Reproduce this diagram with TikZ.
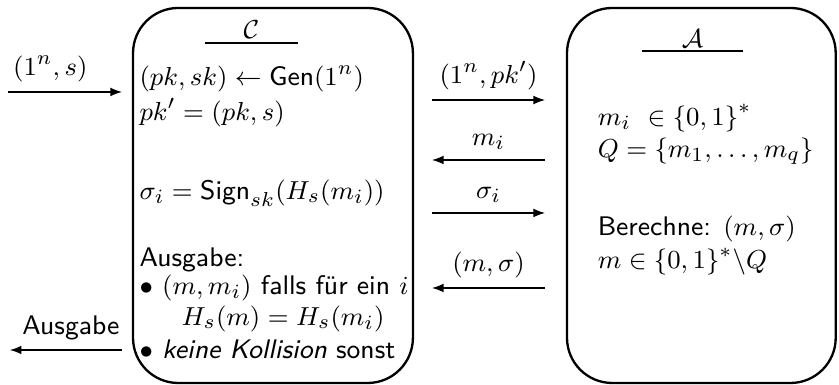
\documentclass[tikz,border=0pt]{standalone}
\usepackage{amsmath,amssymb}
\usepackage{tikz}
\usetikzlibrary{arrows.meta,positioning}

\begin{document}
\begin{tikzpicture}[font=\fontsize{9.3}{11}\selectfont,
  txt/.style={anchor=west,inner sep=0pt,font=\fontsize{9.3}{11}\sffamily},
  msg/.style={-{Latex[length=4pt,width=3pt]}},
  party/.style={thick,rounded corners=0.55cm}]
 \useasboundingbox (0,0) rectangle (10.2,-4.68);
 \draw[party] (1.617,-0.097) rectangle (5.02,-4.656);
 \draw[party] (6.893,-0.097) rectangle (10.16,-4.656);
 \node[anchor=base] (chal) at (3.055,-0.47) {$\mathcal{C}$};
 \draw[thick] (2.49,-0.523) -- (3.62,-0.523);
 \node[anchor=base] (adv) at (8.42,-0.58) {$\mathcal{A}$};
 \draw[thick] (7.805,-0.62) -- (9.033,-0.62);
 \node[txt] (c1) at (1.69,-0.96) {$(pk,sk)\leftarrow\textsf{Gen}(1^n)$};
 \node[txt] (c2) at (1.69,-1.374) {$pk'=(pk,s)$};
 \node[txt] (c3) at (1.69,-2.346) {$\sigma_i=\textsf{Sign}_{sk}(H_s(m_i))$};
 \node[txt] (c4) at (1.69,-3.16) {Ausgabe:};
 \node[txt] (c5) at (1.69,-3.50) {$\bullet$ $(m,m_i)$ falls für ein $i$};
 \node[txt] (c6) at (2.2,-3.878) {$H_s(m)=H_s(m_i)$};
 \node[txt] (c7) at (1.69,-4.243) {$\bullet$ \textit{keine Kollision} sonst};
 \node[txt] (a1) at (7.26,-1.435) {$m_i\ \in\{0,1\}^*$};
 \node[txt] (a2) at (7.26,-1.836) {$Q=\{m_1,\dots,m_q\}$};
 \node[txt] (a3) at (7.26,-2.78) {Berechne: $(m,\sigma)$};
 \node[txt] (a4) at (7.26,-3.18) {$m\in\{0,1\}^*\backslash Q$};
 \coordinate (inL) at (0.1,-1.118);   \coordinate (inR) at (1.483,-1.118);
 \coordinate (outR) at (1.483,-4.255); \coordinate (outL) at (0.12,-4.255);
 \coordinate (m1L) at (5.252,-1.216); \coordinate (m1R) at (6.626,-1.216);
 \coordinate (m2L) at (5.252,-1.945); \coordinate (m2R) at (6.626,-1.945);
 \coordinate (m3L) at (5.252,-2.589); \coordinate (m3R) at (6.626,-2.589);
 \coordinate (m4L) at (5.252,-3.501); \coordinate (m4R) at (6.626,-3.501);
 \draw[msg] (inL) -- node[above,pos=0.37] (lin) {$(1^n,s)$} (inR);
 \draw[msg] (outR) -- node[above,pos=0.455,font=\fontsize{9.3}{11}\sffamily] (lout) {Ausgabe} (outL);
 \draw[msg] (m1L) -- node[above] (l1) {$(1^n,pk')$} (m1R);
 \draw[msg] (m2R) -- node[above] (l2) {$m_i$} (m2L);
 \draw[msg] (m3L) -- node[above] (l3) {$\sigma_i$} (m3R);
 \draw[msg] (m4R) -- node[above] (l4) {$(m,\sigma)$} (m4L);
\end{tikzpicture}
\end{document}
